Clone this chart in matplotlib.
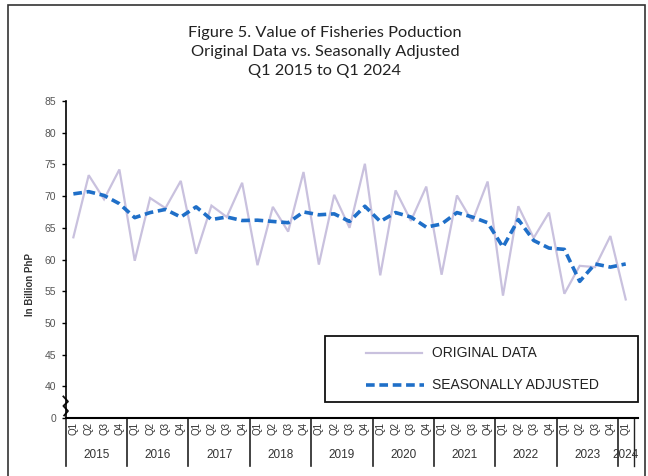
import numpy as np
import matplotlib
matplotlib.use('Agg')
import matplotlib.pyplot as plt
from matplotlib.lines import Line2D
from matplotlib.patches import Rectangle

# data (billion PhP)
years = ['2015', '2016', '2017', '2018', '2019', '2020', '2021', '2022', '2023', '2024']
quarters = ['Q1', 'Q2', 'Q3', 'Q4'] * 9 + ['Q1']

original = [63.5, 73.3, 69.5, 74.2,
            59.8, 69.7, 68.1, 72.4,
            60.9, 68.5, 66.7, 72.1,
            59.1, 68.3, 64.4, 73.8,
            59.2, 70.2, 65.0, 75.1,
            57.5, 70.9, 66.1, 71.5,
            57.6, 70.1, 66.0, 72.3,
            54.3, 68.4, 63.4, 67.4,
            54.6, 59.0, 58.8, 63.7,
            53.7]

seasonal = [70.35, 70.7, 70.1, 68.8,
            66.6, 67.4, 67.9, 66.7,
            68.3, 66.3, 66.7, 66.15,
            66.2, 66.0, 65.8, 67.5,
            67.05, 67.2, 66.0, 68.4,
            66.0, 67.4, 66.7, 65.1,
            65.6, 67.4, 66.7, 65.8,
            61.95, 66.3, 63.0, 61.8,
            61.6, 56.55, 59.3, 58.8,
            59.3]

ytick_vals = [35, 40, 45, 50, 55, 60, 65, 70, 75, 80, 85]
ytick_labels = ['0', '40', '45', '50', '55', '60', '65', '70', '75', '80', '85']

W, H = 648, 476
fig = plt.figure(figsize=(W / 100, H / 100), dpi=100)

# outer frame of the chart
fig.patches.append(Rectangle((8 / W, -0.05), (645 - 8) / W, (H - 5) / H + 0.05,
                             transform=fig.transFigure, fill=False,
                             edgecolor='#333333', linewidth=1.2))

fig.text(325 / W, 1 - 52 / H,
         'Figure 5. Value of Fisheries Poduction\nOriginal Data vs. Seasonally Adjusted\nQ1 2015 to Q1 2024',
         ha='center', va='center', fontsize=11.8, family='Lato', color='#222222',
         linespacing=1.45)

ax = fig.add_axes([66 / W, 1 - 418 / H, (638 - 66) / W, (418 - 101) / H])
x = np.arange(len(original))

ax.plot(x, original, color='#c9c1de', linewidth=1.6, solid_joinstyle='miter')
ax.plot(x, seasonal, color='#1f6fc8', linewidth=2.6, linestyle=(0, (2.4, 1.3)))

ax.set_xlim(-0.48, 36.8)
ax.set_ylim(35, 85)
ax.set_yticks(ytick_vals)
ax.set_yticklabels(ytick_labels, fontsize=7.5, color='#555555', family='Liberation Sans')
ax.tick_params(axis='y', direction='out', length=3, width=1, pad=4)

ax.set_xticks(x)
ax.set_xticklabels(quarters, rotation=90, fontsize=7, color='#333333', family='Liberation Sans')
ax.tick_params(axis='x', length=0, pad=3)

for s in ['top', 'right']:
    ax.spines[s].set_visible(False)
ax.spines['left'].set_linewidth(1.2)
ax.spines['bottom'].set_linewidth(1.5)

# year group labels and separators below the axis
trans = ax.get_xaxis_transform()
sep_bottom = -(466 - 418) / (418 - 101)
for i, yr in enumerate(years):
    start = i * 4
    end = min(start + 3, len(original) - 1)
    ax.text((start + end) / 2, -(455 - 418) / (418 - 101), yr, transform=trans,
            ha='center', va='center', fontsize=8.5, color='#333333', family='Liberation Sans')
for b in range(0, len(original) + 1, 4):
    ax.plot([b - 0.5, b - 0.5], [0, sep_bottom], transform=trans, color='#222222',
            linewidth=1.2, clip_on=False)
ax.plot([36.55, 36.55], [0, sep_bottom], transform=trans, color='#222222',
        linewidth=1.0, clip_on=False)

# axis break squiggle
ax.plot([-0.65, -0.35, -0.65, -0.35, -0.6], [38.4, 37.6, 36.9, 36.1, 35.4],
        color='#111111', linewidth=1.3, clip_on=False)

fig.text(30 / W, 1 - 285 / H, 'In Billion PhP', rotation=90, ha='center', va='center',
         fontsize=7, fontweight='bold', color='#333333', family='Liberation Sans')

# legend box
lx0, lx1 = 325, 638
ly0, ly1 = 336, 402
fig.patches.append(Rectangle((lx0 / W, 1 - ly1 / H), (lx1 - lx0) / W, (ly1 - ly0) / H,
                             transform=fig.transFigure, fill=False,
                             edgecolor='#111111', linewidth=1.3))
fig.lines.append(Line2D([366 / W, 422 / W], [1 - 353 / H, 1 - 353 / H],
                        transform=fig.transFigure, color='#c9c1de', linewidth=1.6))
fig.lines.append(Line2D([366 / W, 424 / W], [1 - 385 / H, 1 - 385 / H],
                        transform=fig.transFigure, color='#1f6fc8', linewidth=2.6,
                        linestyle=(0, (2.4, 1.3))))
fig.text(432 / W, 1 - 353 / H, 'ORIGINAL DATA', ha='left', va='center',
         fontsize=10, color='#222222', family='Liberation Sans')
fig.text(432 / W, 1 - 385 / H, 'SEASONALLY ADJUSTED', ha='left', va='center',
         fontsize=10, color='#222222', family='Liberation Sans')

fig.savefig('out.png', dpi=100)
